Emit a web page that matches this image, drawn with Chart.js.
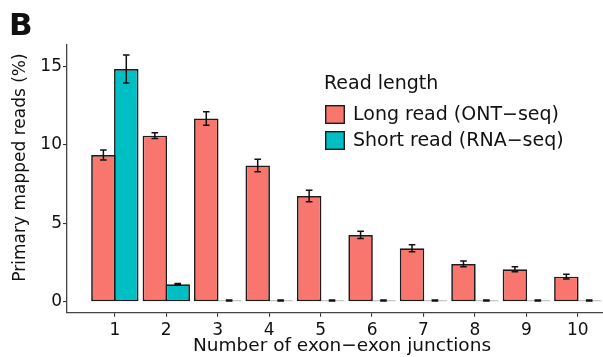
<!DOCTYPE html>
<html>
<head>
<meta charset="utf-8">
<script src="https://cdn.jsdelivr.net/npm/chart.js@4.4.1/dist/chart.umd.min.js"></script>
<style>
  html, body { margin: 0; padding: 0; background: #ffffff; }
  #wrap { width: 603px; height: 357px; position: relative; }
  canvas { display: block; }
</style>
</head>
<body>
<div id="wrap"><canvas id="chart" width="603" height="357"></canvas></div>
<script>
// Share of primary mapped reads by number of exon–exon junctions
const junctions = [1, 2, 3, 4, 5, 6, 7, 8, 9, 10];
const longRead = [9.36, 10.6, 11.7, 8.7, 6.75, 4.26, 3.41, 2.41, 2.07, 1.6];
const longReadErr = [0.32, 0.19, 0.43, 0.4, 0.37, 0.23, 0.22, 0.18, 0.16, 0.15];
const shortRead = [14.85, 1.11, 0.08, 0.08, 0.08, 0.08, 0.08, 0.08, 0.08, 0.08];
const shortReadErr = [0.89, 0.05, 0.03, 0.03, 0.03, 0.03, 0.03, 0.03, 0.03, 0.03];
const yTicks = [0, 5, 10, 15];

const seriesLabels = ['Long read (ONT\u2212seq)', 'Short read (RNA\u2212seq)'];
const seriesColors = ['#F8766D', '#00BFC4'];
const legendTitle = 'Read length';
const xTitle = 'Number of exon\u2212exon junctions';
const yTitle = 'Primary mapped reads (%)';
const panelTag = 'B';

const FONT = '"DejaVu Sans", "Liberation Sans", sans-serif';
const INK = '#111111';
const OUTLINE = '#1c1c1c';

function points(values) {
  return junctions.map((x, i) => ({ x: x, y: values[i] }));
}

// Error bars drawn on top of each bar, from value ± err
const errorBars = {
  id: 'errorBars',
  afterDatasetsDraw(chart) {
    const ctx = chart.ctx;
    const y = chart.scales.y;
    ctx.save();
    ctx.strokeStyle = INK;
    ctx.lineWidth = 1.5;
    chart.data.datasets.forEach((ds, i) => {
      const meta = chart.getDatasetMeta(i);
      meta.data.forEach((bar, j) => {
        const v = ds.data[j].y;
        const e = ds.errors[j];
        const top = y.getPixelForValue(v + e);
        const bot = y.getPixelForValue(v - e);
        const cap = 3.3;
        ctx.beginPath();
        ctx.moveTo(bar.x, top); ctx.lineTo(bar.x, bot);
        ctx.moveTo(bar.x - cap, top); ctx.lineTo(bar.x + cap, top);
        ctx.moveTo(bar.x - cap, bot); ctx.lineTo(bar.x + cap, bot);
        ctx.stroke();
      });
    });
    ctx.restore();
  }
};

// Legend placed inside the panel, plus axis titles and panel tag
const annotations = {
  id: 'annotations',
  afterDraw(chart) {
    const ctx = chart.ctx;
    ctx.save();
    ctx.fillStyle = INK;
    ctx.textAlign = 'left';
    ctx.textBaseline = 'alphabetic';

    // panel tag
    ctx.font = 'bold 31px ' + FONT;
    ctx.fillText(panelTag, 9, 35);

    // legend
    ctx.font = '19px ' + FONT;
    ctx.fillText(legendTitle, 324, 89);
    chart.data.datasets.forEach((ds, i) => {
      const bx = 325, by = 105 + i * 26, bw = 20, bh = 19;
      ctx.fillStyle = ds.backgroundColor;
      ctx.fillRect(bx, by, bw, bh);
      ctx.strokeStyle = OUTLINE;
      ctx.lineWidth = 1.4;
      ctx.strokeRect(bx + 0.7, by + 0.7, bw - 1.4, bh - 1.4);
      ctx.fillStyle = INK;
      ctx.textBaseline = 'middle';
      ctx.fillText(ds.label, 353, by + bh / 2 + 1);
      ctx.textBaseline = 'alphabetic';
    });

    // x axis title
    ctx.font = '18.5px ' + FONT;
    ctx.textAlign = 'center';
    ctx.fillText(xTitle, 342, 351);

    // y axis title
    ctx.font = '17px ' + FONT;
    ctx.translate(25, 167.5);
    ctx.rotate(-Math.PI / 2);
    ctx.fillText(yTitle, 0, 0);
    ctx.restore();
  }
};

const tickFont = { family: FONT, size: 17 };

new Chart(document.getElementById('chart'), {
  type: 'bar',
  data: {
    datasets: [
      {
        label: seriesLabels[0],
        data: points(longRead),
        errors: longReadErr,
        backgroundColor: seriesColors[0],
        borderColor: OUTLINE,
        borderWidth: 1.7,
        borderSkipped: false
      },
      {
        label: seriesLabels[1],
        data: points(shortRead),
        errors: shortReadErr,
        backgroundColor: seriesColors[1],
        borderColor: OUTLINE,
        borderWidth: 1.7,
        borderSkipped: false
      }
    ]
  },
  options: {
    responsive: false,
    animation: false,
    devicePixelRatio: 1,
    categoryPercentage: 0.89,
    barPercentage: 1.07,
    layout: { padding: { top: 45, right: 0, left: 0, bottom: 0 } },
    plugins: {
      legend: { display: false },
      tooltip: { enabled: false },
      title: { display: false }
    },
    scales: {
      x: {
        type: 'linear',
        offset: false,
        min: 0.07,
        max: 10.49,
        afterBuildTicks: s => { s.ticks = junctions.map(v => ({ value: v })); },
        afterFit: s => { s.height = 44.3; },
        grid: { display: true, offset: false, drawOnChartArea: false, drawTicks: true, tickLength: 4, color: '#333333', lineWidth: 1.1 },
        border: { display: true, color: '#444444', width: 1.3 },
        ticks: { font: tickFont, color: INK, padding: 4, autoSkip: false, maxRotation: 0 }
      },
      y: {
        type: 'linear',
        min: -0.702,
        max: 16.385,
        afterBuildTicks: s => { s.ticks = yTicks.map(v => ({ value: v })); },
        afterFit: s => { s.width = 67; },
        grid: { display: true, drawOnChartArea: false, drawTicks: true, tickLength: 4, color: '#333333', lineWidth: 1.1 },
        border: { display: true, color: '#444444', width: 1.3 },
        ticks: { font: tickFont, color: INK, padding: 1 }
      }
    }
  },
  plugins: [errorBars, annotations]
});
</script>
</body>
</html>
